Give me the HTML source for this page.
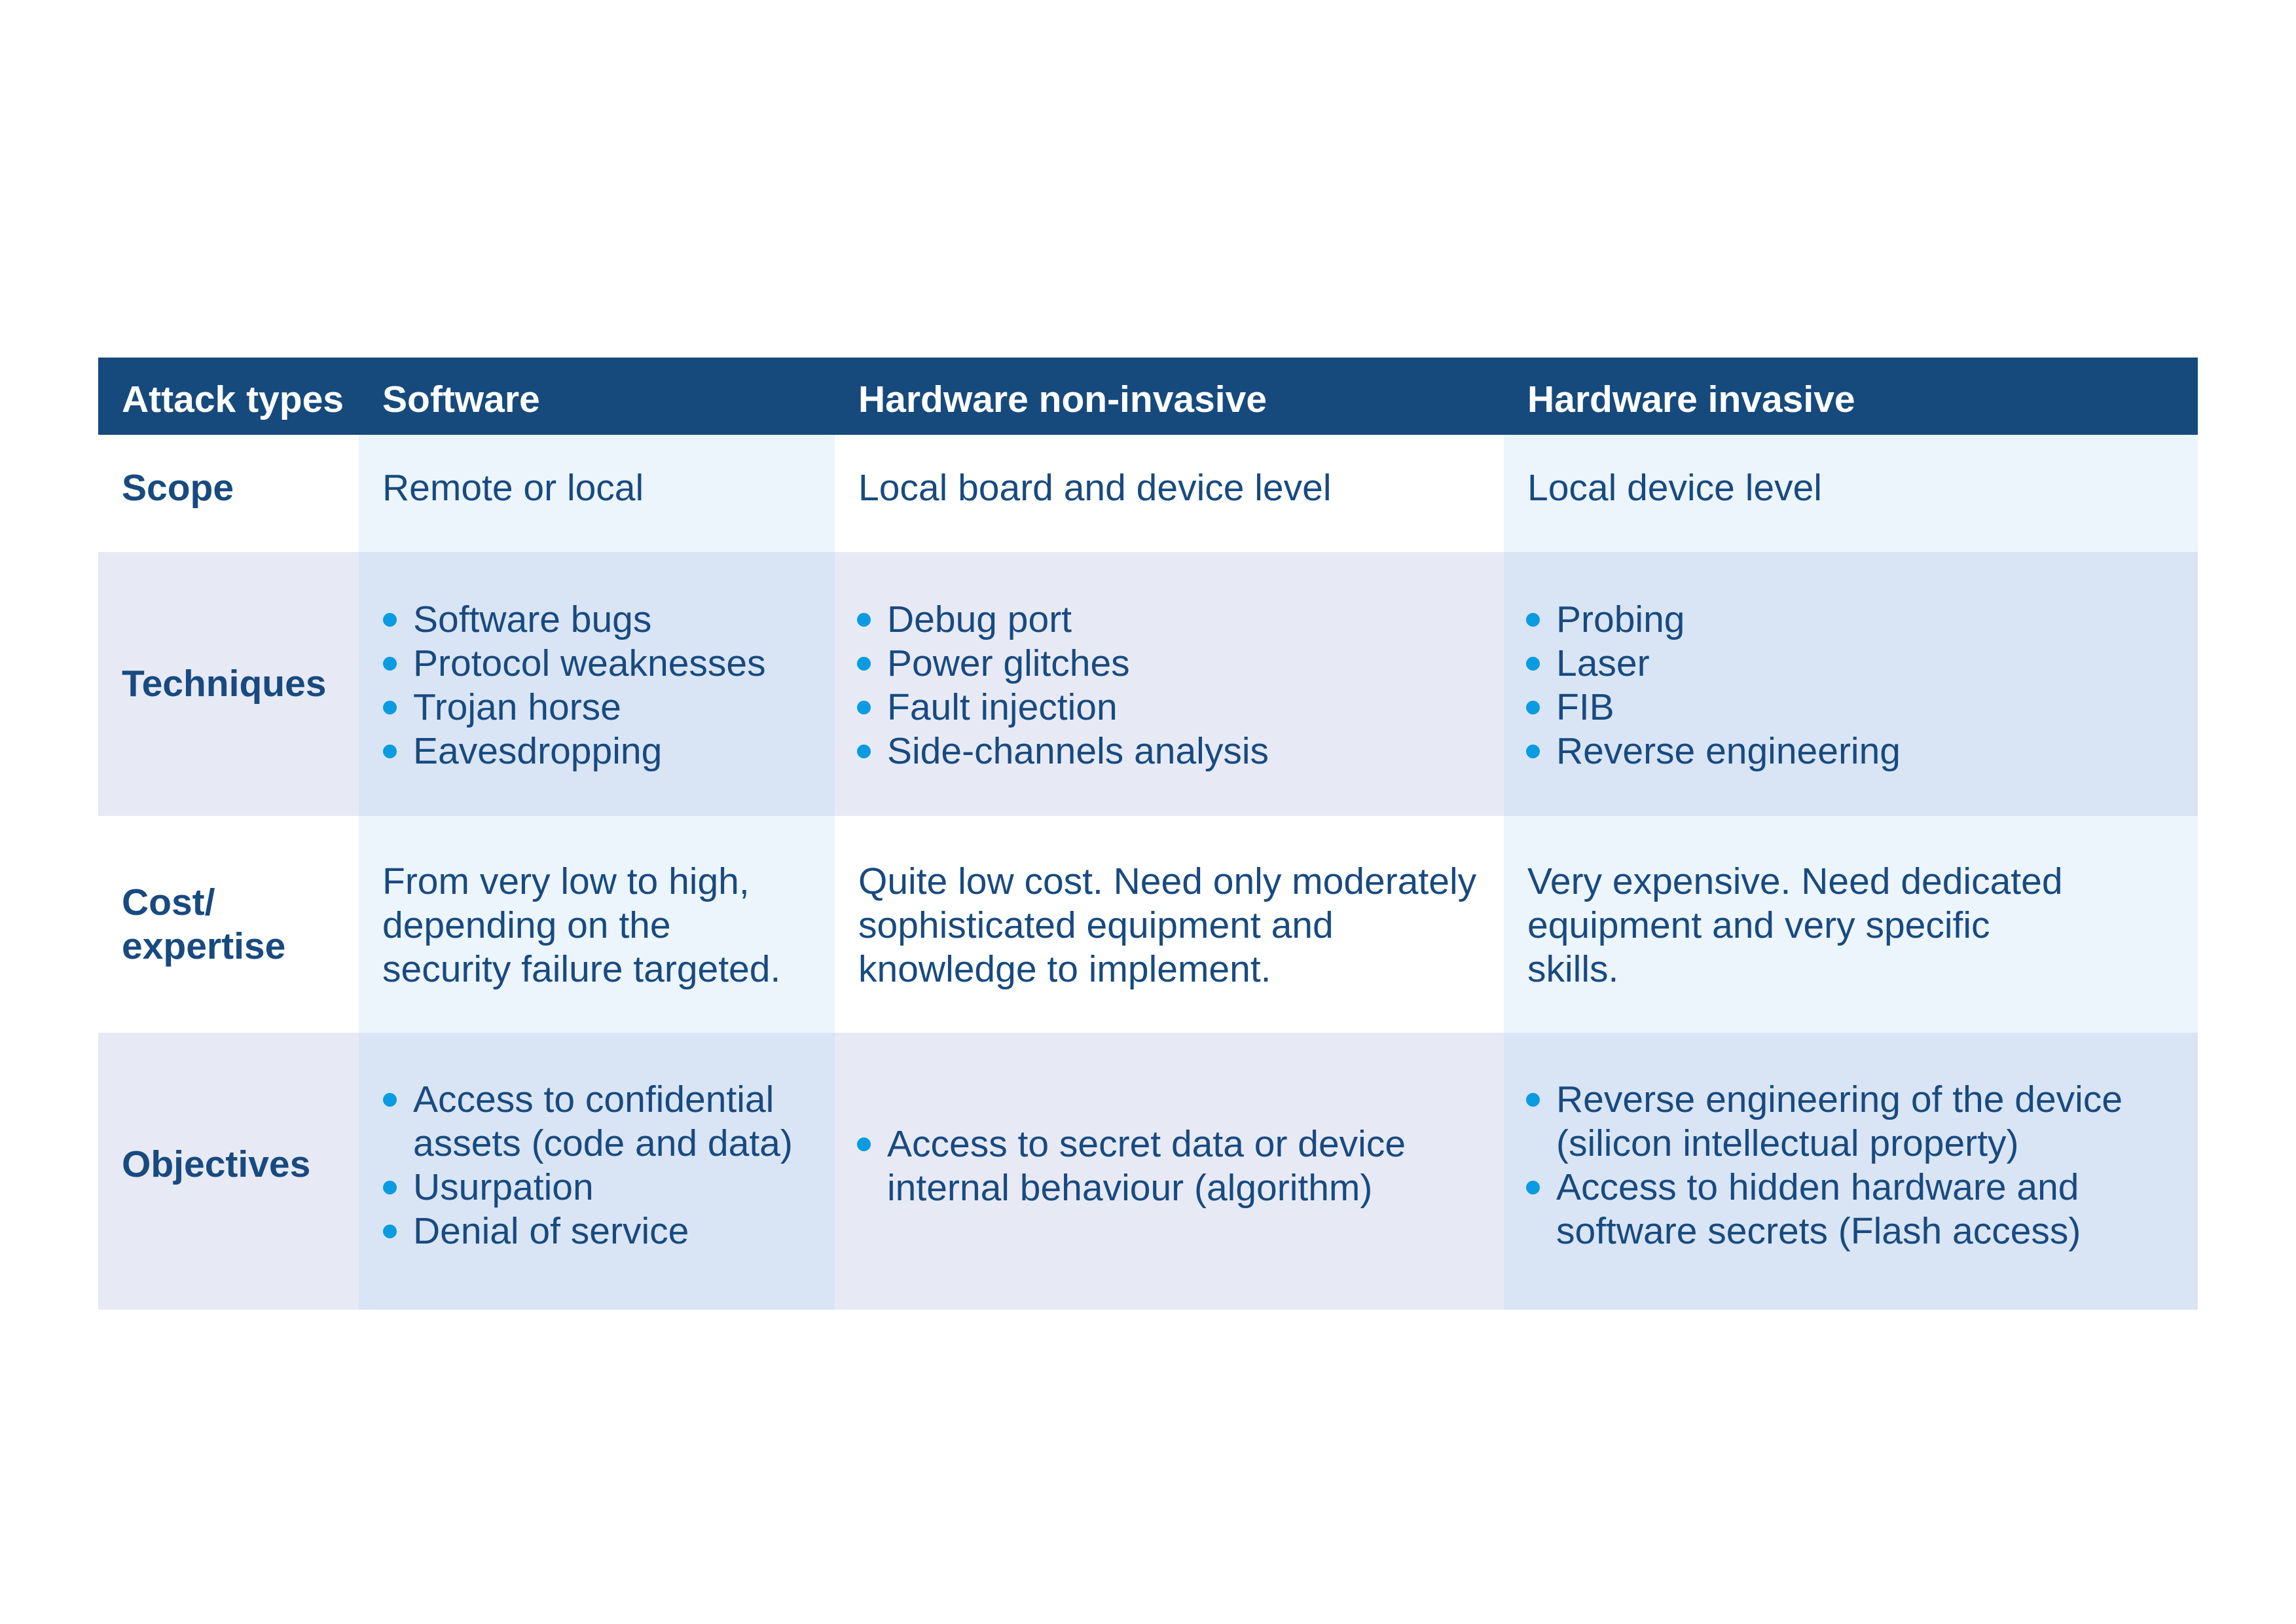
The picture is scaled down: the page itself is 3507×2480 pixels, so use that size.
<!DOCTYPE html>
<html><head><meta charset="utf-8"><style>
body{margin:0;width:3507px;height:2480px;background:#fff;position:relative;overflow:hidden;font-family:"Liberation Sans",Arial,sans-serif;}
.r{position:absolute;}
.t{position:absolute;font-size:57px;line-height:67px;color:#184a80;white-space:nowrap;}
.b{font-weight:bold;}
.h{color:#fff;font-weight:bold;}
.bl{position:relative;}
.bl::before{content:"";position:absolute;left:-46px;top:23px;width:21px;height:21px;border-radius:50%;background:#0a9be0;}
</style></head><body>
<div class="r" style="left:150px;top:546px;width:3207px;height:118px;background:#164a7c"></div>
<div class="r" style="left:150px;top:664px;width:3207px;height:179px;background:#fff"></div>
<div class="r" style="left:150px;top:843px;width:3207px;height:403px;background:#e7eaf5"></div>
<div class="r" style="left:150px;top:1246px;width:3207px;height:331px;background:#fff"></div>
<div class="r" style="left:150px;top:1577px;width:3207px;height:423px;background:#e7eaf5"></div>
<div class="r" style="left:548px;top:664px;width:727px;height:179px;background:#ecf4fc"></div>
<div class="r" style="left:2297px;top:664px;width:1060px;height:179px;background:#ecf4fc"></div>
<div class="r" style="left:548px;top:843px;width:727px;height:403px;background:#d9e5f4"></div>
<div class="r" style="left:2297px;top:843px;width:1060px;height:403px;background:#d9e5f4"></div>
<div class="r" style="left:548px;top:1246px;width:727px;height:331px;background:#ecf4fc"></div>
<div class="r" style="left:2297px;top:1246px;width:1060px;height:331px;background:#ecf4fc"></div>
<div class="r" style="left:548px;top:1577px;width:727px;height:423px;background:#d9e5f4"></div>
<div class="r" style="left:2297px;top:1577px;width:1060px;height:423px;background:#d9e5f4"></div>

<div class="t h" style="left:186px;top:577px">Attack types</div>
<div class="t h" style="left:584px;top:577px">Software</div>
<div class="t h" style="left:1311px;top:577px">Hardware non-invasive</div>
<div class="t h" style="left:2333px;top:577px">Hardware invasive</div>

<div class="t b" style="left:186px;top:712px">Scope</div>
<div class="t" style="left:584px;top:712px">Remote or local</div>
<div class="t" style="left:1311px;top:712px">Local board and device level</div>
<div class="t" style="left:2333px;top:712px">Local device level</div>

<div class="t b" style="left:186px;top:1011px">Techniques</div>
<div class="t" style="left:631px;top:913px"><div class="bl">Software bugs</div><div class="bl">Protocol weaknesses</div><div class="bl">Trojan horse</div><div class="bl">Eavesdropping</div></div>
<div class="t" style="left:1355px;top:913px"><div class="bl">Debug port</div><div class="bl">Power glitches</div><div class="bl">Fault injection</div><div class="bl">Side-channels analysis</div></div>
<div class="t" style="left:2377px;top:913px"><div class="bl">Probing</div><div class="bl">Laser</div><div class="bl">FIB</div><div class="bl">Reverse engineering</div></div>

<div class="t b" style="left:186px;top:1345px">Cost/<br>expertise</div>
<div class="t" style="left:584px;top:1313px">From very low to high,<br>depending on the<br>security failure targeted.</div>
<div class="t" style="left:1311px;top:1313px">Quite low cost. Need only moderately<br>sophisticated equipment and<br>knowledge to implement.</div>
<div class="t" style="left:2333px;top:1313px">Very expensive. Need dedicated<br>equipment and very specific<br>skills.</div>

<div class="t b" style="left:186px;top:1745px">Objectives</div>
<div class="t" style="left:631px;top:1646px"><div class="bl">Access to confidential<br>assets (code and data)</div><div class="bl">Usurpation</div><div class="bl">Denial of service</div></div>
<div class="t" style="left:1355px;top:1714px"><div class="bl">Access to secret data or device<br>internal behaviour (algorithm)</div></div>
<div class="t" style="left:2377px;top:1646px"><div class="bl">Reverse engineering of the device<br>(silicon intellectual property)</div><div class="bl">Access to hidden hardware and<br>software secrets (Flash access)</div></div>
</body></html>
